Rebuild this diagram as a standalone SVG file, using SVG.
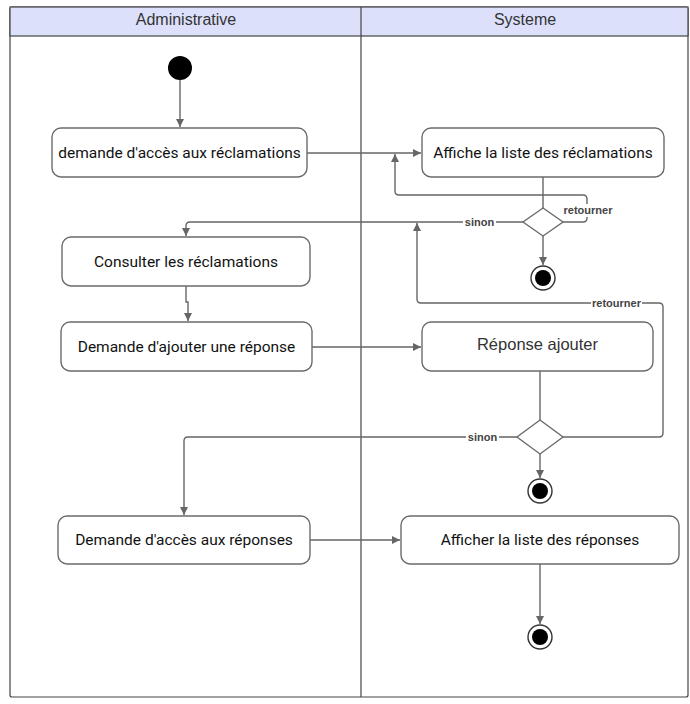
<svg xmlns="http://www.w3.org/2000/svg" width="690" height="704" viewBox="0 0 690 704">
  <style>
    .lane { fill: #ffffff; stroke: #444444; stroke-width: 1.2; }
    .lane-head { fill: #dde0fb; stroke: #444444; stroke-width: 1.2; }
    .lane-title { font-family: "Liberation Sans", Arial, sans-serif; font-size: 16px; fill: #333333; text-anchor: middle; }
    .act rect { fill: #ffffff; stroke: #6b6b6b; stroke-width: 1.4; }
    .act text { font-family: Roboto, "Noto Sans", sans-serif; font-size: 15.5px; fill: #111111; text-anchor: middle; }
    .act text.alt { font-family: "Liberation Sans", Arial, sans-serif; font-size: 16.5px; fill: #333333; }
    .decision { fill: #ffffff; stroke: #6b6b6b; stroke-width: 1.4; }
    .flow { fill: none; stroke: #666666; stroke-width: 1.4; }
    .guard-bg { fill: #ffffff; }
    .guard { font-family: "Liberation Sans", Arial, sans-serif; font-size: 11px; font-weight: bold; fill: #444444; text-anchor: middle; }
  </style>
  <defs>
    <marker id="arrow" viewBox="0 0 10 10" refX="10" refY="5" markerWidth="8" markerHeight="8" markerUnits="userSpaceOnUse" orient="auto">
      <path d="M0,0 L10,5 L0,10 z" fill="#666666"/>
    </marker>
  </defs>

  <!-- swimlanes -->
  <g id="lanes">
    <rect class="lane" x="10" y="7" width="678" height="690" rx="2"/>
    <rect class="lane-head" x="10" y="7" width="678" height="29"/>
    <line x1="361" y1="7" x2="361" y2="697" stroke="#444444" stroke-width="1.2"/>
    <text class="lane-title" x="186" y="25">Administrative</text>
    <text class="lane-title" x="525" y="25">Systeme</text>
  </g>

  <!-- control flows -->
  <g id="connectors">
    <line class="flow" x1="180" y1="80" x2="180" y2="127" marker-end="url(#arrow)"/>
    <line class="flow" x1="307" y1="153" x2="421" y2="153" marker-end="url(#arrow)"/>
    <line class="flow" x1="543" y1="177" x2="543" y2="208"/>
    <!-- first decision: retourner loop -->
    <path class="flow" d="M563,222 H583 Q587,222 587,218 V199 Q587,195 583,195 H399 Q395,195 395,191 V154" marker-end="url(#arrow)"/>
    <!-- first decision: sinon -->
    <path class="flow" d="M523,222 H190 Q186,222 186,226 V236" marker-end="url(#arrow)"/>
    <line class="flow" x1="543" y1="236" x2="543" y2="265" marker-end="url(#arrow)"/>
    <path class="flow" d="M186,286 V302 H188 V321" marker-end="url(#arrow)"/>
    <line class="flow" x1="312" y1="347" x2="421" y2="347" marker-end="url(#arrow)"/>
    <line class="flow" x1="540" y1="371" x2="540" y2="420"/>
    <!-- second decision: retourner loop -->
    <path class="flow" d="M563,437 H659 Q663,437 663,433 V307 Q663,303 659,303 H421 Q417,303 417,299 V223" marker-end="url(#arrow)"/>
    <!-- second decision: sinon -->
    <path class="flow" d="M517,437 H188 Q184,437 184,441 V515" marker-end="url(#arrow)"/>
    <line class="flow" x1="540" y1="454" x2="540" y2="478" marker-end="url(#arrow)"/>
    <line class="flow" x1="310" y1="540" x2="400" y2="540" marker-end="url(#arrow)"/>
    <line class="flow" x1="540" y1="564" x2="540" y2="624" marker-end="url(#arrow)"/>

    <!-- guards -->
    <rect class="guard-bg" x="563" y="204" width="50" height="13"/>
    <text class="guard" x="588" y="214">retourner</text>
    <rect class="guard-bg" x="463" y="216" width="33" height="13"/>
    <text class="guard" x="479.5" y="226">sinon</text>
    <rect class="guard-bg" x="591" y="297" width="51" height="13"/>
    <text class="guard" x="616.5" y="307">retourner</text>
    <rect class="guard-bg" x="466" y="431" width="33" height="13"/>
    <text class="guard" x="482.5" y="441">sinon</text>
  </g>

  <g id="start">
    <circle cx="180" cy="68" r="12" fill="#000000"/>
  </g>

  <g id="demande-acces-reclamations" class="act">
    <rect x="52" y="128" width="255" height="49" rx="9"/>
    <text x="179.5" y="158">demande d'accès aux réclamations</text>
  </g>

  <g id="affiche-liste-reclamations" class="act">
    <rect x="422" y="128" width="242" height="49" rx="9"/>
    <text x="543" y="158">Affiche la liste des réclamations</text>
  </g>

  <g id="decision-reclamations">
    <polygon class="decision" points="543,208 563,222 543,236 523,222"/>
  </g>

  <g id="fin-reclamations">
    <circle cx="543" cy="278" r="12" fill="#ffffff" stroke="#333333" stroke-width="1.4"/>
    <circle cx="543" cy="278" r="8" fill="#000000"/>
  </g>

  <g id="consulter-reclamations" class="act">
    <rect x="62" y="237" width="248" height="49" rx="9"/>
    <text x="186" y="267">Consulter les réclamations</text>
  </g>

  <g id="demande-ajouter-reponse" class="act">
    <rect x="61" y="322" width="251" height="49" rx="9"/>
    <text x="186.5" y="352">Demande d'ajouter une réponse</text>
  </g>

  <g id="reponse-ajouter" class="act">
    <rect x="422" y="322" width="231" height="49" rx="9"/>
    <text class="alt" x="537.5" y="350">Réponse ajouter</text>
  </g>

  <g id="decision-reponse">
    <polygon class="decision" points="540,420 563,437 540,454 517,437"/>
  </g>

  <g id="fin-reponse">
    <circle cx="540" cy="491" r="12" fill="#ffffff" stroke="#333333" stroke-width="1.4"/>
    <circle cx="540" cy="491" r="8" fill="#000000"/>
  </g>

  <g id="demande-acces-reponses" class="act">
    <rect x="58" y="516" width="252" height="48" rx="9"/>
    <text x="184" y="545">Demande d'accès aux réponses</text>
  </g>

  <g id="afficher-liste-reponses" class="act">
    <rect x="401" y="516" width="278" height="48" rx="9"/>
    <text x="540" y="545">Afficher la liste des réponses</text>
  </g>

  <g id="fin">
    <circle cx="540" cy="637" r="12" fill="#ffffff" stroke="#333333" stroke-width="1.4"/>
    <circle cx="540" cy="637" r="8" fill="#000000"/>
  </g>
</svg>
